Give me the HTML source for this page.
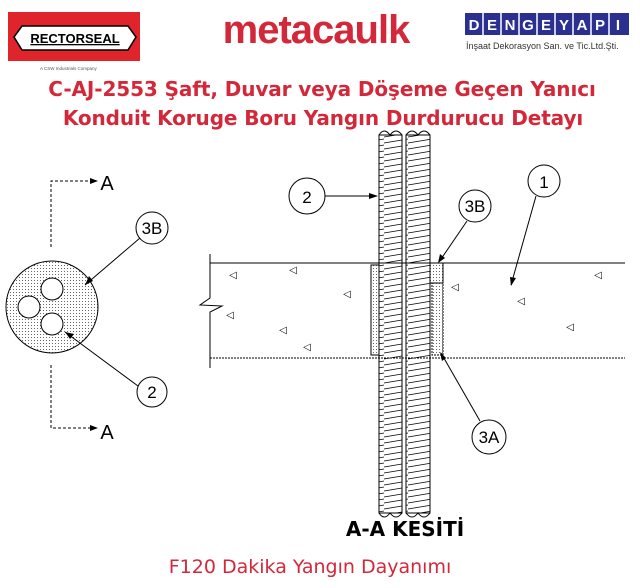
<!DOCTYPE html>
<html><head><meta charset="utf-8"><style>
body{margin:0;background:#fff;width:640px;height:583px;overflow:hidden;font-family:"Liberation Sans",sans-serif}
</style></head><body>
<svg width="640" height="583" viewBox="0 0 640 583" xmlns="http://www.w3.org/2000/svg" font-family="Liberation Sans, sans-serif">
<defs>
<pattern id="dots" width="3" height="3" patternUnits="userSpaceOnUse"><rect x="1" y="1" width="0.9" height="0.9" fill="#444"/></pattern>
<pattern id="hatch" width="24" height="6" patternUnits="userSpaceOnUse"><line x1="0" y1="5" x2="24" y2="1" stroke="#000" stroke-width="0.8"/></pattern>
</defs>
<rect x="8" y="12" width="132" height="49" fill="#e0242c"/>
<polygon points="22,26 128,26 136,37 128,50 22,50 14,37" fill="#fff" stroke="#000" stroke-width="1.5"/>
<text x="75" y="43" font-size="13" font-weight="bold" text-anchor="middle" fill="#000" text-decoration="underline">RECTORSEAL</text>
<text x="40" y="70" font-size="4.5" fill="#555">A CSW Industrials Company</text>
<text x="316" y="43" font-size="40" font-weight="bold" text-anchor="middle" fill="#d3283a" letter-spacing="-1">metacaulk</text>
<g font-size="15" font-weight="bold" fill="#fff" text-anchor="middle">
<rect x="465" y="13" width="164" height="22" fill="#2b2f8f"/>
<text x="474" y="30">D</text><text x="492" y="30">E</text><text x="510" y="30">N</text><text x="528" y="30">G</text><text x="546" y="30">E</text><text x="564" y="30">Y</text><text x="582" y="30">A</text><text x="600" y="30">P</text><text x="618" y="30">I</text>
</g>
<g stroke="#fff" stroke-width="1.5"><line x1="483" y1="13" x2="483" y2="35"/><line x1="501" y1="13" x2="501" y2="35"/><line x1="519" y1="13" x2="519" y2="35"/><line x1="537" y1="13" x2="537" y2="35"/><line x1="555" y1="13" x2="555" y2="35"/><line x1="573" y1="13" x2="573" y2="35"/><line x1="591" y1="13" x2="591" y2="35"/><line x1="609" y1="13" x2="609" y2="35"/></g>
<text x="466" y="49" font-size="9" fill="#333">İnşaat Dekorasyon San. ve Tic.Ltd.Şti.</text>
<text x="322" y="96" font-size="20" font-weight="bold" fill="#d3283a" text-anchor="middle" font-family="DejaVu Sans, sans-serif" letter-spacing="-0.1">C-AJ-2553 Şaft, Duvar veya Döşeme Geçen Yanıcı</text>
<text x="323" y="125" font-size="20" font-weight="bold" fill="#d3283a" text-anchor="middle" font-family="DejaVu Sans, sans-serif" letter-spacing="-0.1">Konduit Koruge Boru Yangın Durdurucu Detayı</text>

<g stroke="#000" fill="none" stroke-width="1">
<polyline points="51,247 51,181 90,181" stroke-dasharray="3,2"/>
<polyline points="51,365 51,428 90,428" stroke-dasharray="3,2"/>
<circle cx="52" cy="307" r="46" fill="url(#dots)"/>
<circle cx="52" cy="289" r="11" fill="#fff"/>
<circle cx="29" cy="307" r="11" fill="#fff"/>
<circle cx="52" cy="324" r="11" fill="#fff"/>
<circle cx="152" cy="228" r="16" fill="#fff"/>
<line x1="140" y1="238" x2="85" y2="285"/>
<circle cx="152" cy="392" r="15" fill="#fff"/>
<line x1="138" y1="386" x2="65" y2="332"/>
<line x1="210" y1="263" x2="625" y2="263"/>
<line x1="210" y1="358" x2="625" y2="358" stroke-dasharray="2,1"/>
<polyline points="210,254 210,298 200,305 222,306 210,312 210,368"/>
<rect x="371" y="265" width="8" height="90" fill="url(#dots)"/>
<rect x="430" y="263" width="13" height="20" fill="url(#dots)"/>
<rect x="432" y="283" width="11" height="72" fill="url(#dots)" stroke-dasharray="2,1"/>
<rect x="379" y="135" width="23" height="378" fill="url(#hatch)"/>
<rect x="406" y="135" width="24" height="378" fill="url(#hatch)"/>
<path d="M379,135 q5,-8 11,0 q6,-8 12,0 M406,135 q6,-8 12,0 q6,-8 12,0"/>
<path d="M379,513 q5,8 11,0 q6,8 12,0 M406,513 q6,8 12,0 q6,8 12,0"/>
<circle cx="307" cy="196" r="18" fill="#fff"/>
<line x1="325" y1="196" x2="377" y2="196"/>
<circle cx="475" cy="206" r="16" fill="#fff"/>
<line x1="467" y1="221" x2="439" y2="262"/>
<circle cx="544" cy="181" r="16" fill="#fff"/>
<line x1="536" y1="196" x2="511" y2="285"/>
<circle cx="489" cy="437" r="17" fill="#fff"/>
<line x1="480" y1="421" x2="441" y2="353"/>
</g>
<g fill="#000">
<polygon points="90,178 98,181 90,184"/><polygon points="90,425 98,428 90,431"/>
<polygon points="85,285 89,276 93,281"/><polygon points="65,332 74,334 70,339"/>
<polygon points="378,196 369,193 369,199"/>
<polygon points="438,263 440,254 445,258"/>
<polygon points="511,286 510,277 516,278"/>
<polygon points="440,352 446,358 442,361"/>
</g>
<g font-size="10" fill="#000" text-anchor="middle">
<text x="233" y="278">◁</text><text x="293" y="273">◁</text><text x="347" y="297">◁</text><text x="230" y="318">◁</text><text x="283" y="333">◁</text><text x="307" y="350">◁</text><text x="521" y="304">◁</text><text x="598" y="278">◁</text><text x="570" y="330">◁</text><text x="455" y="290">◁</text>
</g>
<g font-size="17" fill="#000" text-anchor="middle">
<text x="152" y="234">3B</text><text x="152" y="398">2</text>
<text x="307" y="203">2</text><text x="475" y="212">3B</text><text x="544" y="188">1</text><text x="489" y="443">3A</text>
</g>
<text x="107" y="190" font-size="20" text-anchor="middle">A</text>
<text x="107" y="439" font-size="20" text-anchor="middle">A</text>
<text x="405" y="536" font-size="20" font-weight="bold" text-anchor="middle" font-family="DejaVu Sans, sans-serif">A-A KESİTİ</text>
<text x="310" y="573" font-size="19" fill="#d3283a" text-anchor="middle" font-family="DejaVu Sans, sans-serif">F120 Dakika Yangın Dayanımı</text>
</svg>
</body></html>
